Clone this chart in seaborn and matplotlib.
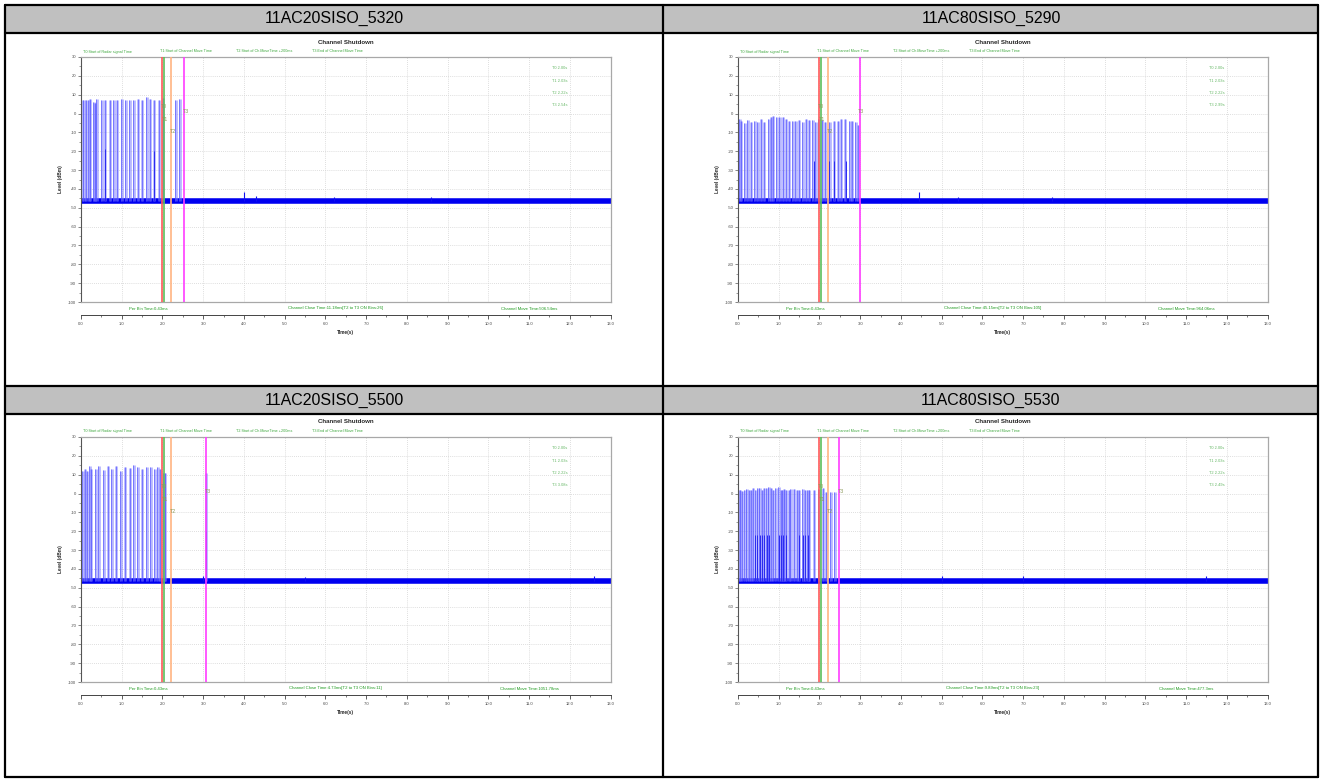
import matplotlib
matplotlib.use("Agg")
import matplotlib.pyplot as plt
import seaborn as sns
import numpy as np
from matplotlib.patches import Rectangle
from matplotlib.lines import Line2D
from matplotlib.ticker import MultipleLocator
from matplotlib.transforms import blended_transform_factory

# ---------------- data ----------------
panel_names = ["11AC20SISO_5320", "11AC80SISO_5290", "11AC20SISO_5500", "11AC80SISO_5530"]

top_labels = ["T0:Start of Radar signal Time", "T1:Start of Channel Move Time",
              "T2:Start of Ch.MoveTime +200ms", "T3:End of Channel Move Time"]
top_label_x = [0.06, 1.94, 3.81, 5.68]
time_ticks = [0.0, 1.0, 2.0, 3.0, 4.0, 5.0, 6.0, 7.0, 8.0, 9.0, 10.0, 11.0, 12.0, 13.0]
level_ticks = [30, 20, 10, 0, -10, -20, -30, -40, -50, -60, -70, -80, -90, -100]

floor_t = [0.0, 13.0]
floor_db = [-46.5, -46.5]

# 11AC20SISO_5320
pulse_t_5320 = [0.02, 0.07, 0.13, 0.19, 0.23, 0.31, 0.35, 0.39, 0.51, 0.59, 0.72, 0.80, 0.89,
                1.00, 1.10, 1.20, 1.30, 1.40, 1.50, 1.61, 1.70, 1.80, 1.92, 2.02, 2.33, 2.42]
pulse_db_5320 = [7, 7, 7, 7, 7.5, 6, 5.5, 7.5, 7, 7, 7, 7, 7, 7.5, 7, 7, 7, 7.5, 7, 9, 7.5, 7,
                 7, 8, 7, 7.5]
low_t_5320 = [0.59, 1.78]
low_db_5320 = [-19, -20]
spike_t_5320 = [4.0, 4.3, 6.2, 8.6]
spike_db_5320 = [-41.5, -44, -44.5, -44.5]
marks_5320 = [2.00, 2.03, 2.22, 2.54]
texts_5320 = ["Per Bin Time:0.43ms", "Channel Close Time:11.18ms[T2 to T3 ON Bins:26]",
              "Channel Move Time:506.54ms"]

# 11AC80SISO_5290
pulse_t_5290 = [0.04, 0.08, 0.16, 0.24, 0.33, 0.41, 0.49, 0.57, 0.65, 0.76, 0.81, 0.87, 0.95,
                1.03, 1.11, 1.18, 1.26, 1.34, 1.42, 1.50, 1.59, 1.67, 1.75, 1.83, 1.91, 1.98,
                2.07, 2.14, 2.25, 2.36, 2.46, 2.54, 2.63, 2.74, 2.80, 2.89, 2.95]
pulse_db_5290 = [-3, -4, -5, -3.5, -4.5, -4, -4.5, -3, -4.5, -3, -2, -1.5, -2, -2, -2, -3, -4,
                 -4, -4, -3.5, -4.5, -3, -3.5, -3.5, -4.5, -3, -3.5, -4.5, -4.5, -4, -4, -3, -3,
                 -4, -4, -4.5, -6]
low_t_5290 = [1.87, 2.24, 2.36, 2.64]
low_db_5290 = [-25, -25, -25, -25]
spike_t_5290 = [4.45, 5.4, 7.7]
spike_db_5290 = [-41.5, -44.5, -44.5]
marks_5290 = [2.00, 2.03, 2.22, 2.99]
texts_5290 = ["Per Bin Time:0.43ms", "Channel Close Time:45.15ms[T2 to T3 ON Bins:105]",
              "Channel Move Time:964.06ms"]

# 11AC20SISO_5500
pulse_t_5500 = [0.04, 0.11, 0.15, 0.21, 0.25, 0.36, 0.44, 0.56, 0.67, 0.75, 0.86, 0.97, 1.08,
                1.21, 1.29, 1.39, 1.50, 1.61, 1.71, 1.81, 1.89, 1.94, 2.03, 2.07, 3.08]
pulse_db_5500 = [12, 13, 12, 14.5, 13, 13, 14.5, 12.5, 14.5, 13, 14.5, 12, 14, 13.5, 15, 14, 13,
                 14, 14, 13, 14, 13, 11, 11, 11]
low_t_5500 = [3.06]
low_db_5500 = [-20]
spike_t_5500 = [3.0, 5.5, 12.6]
spike_db_5500 = [-44, -44.5, -44]
marks_5500 = [2.00, 2.03, 2.22, 3.08]
texts_5500 = ["Per Bin Time:0.43ms", "Channel Close Time:4.73ms[T2 to T3 ON Bins:11]",
              "Channel Move Time:1051.78ms"]

# 11AC80SISO_5530
pulse_t_5530 = [0.02, 0.06, 0.11, 0.16, 0.22, 0.28, 0.33, 0.37, 0.43, 0.49, 0.53, 0.59, 0.65,
                0.71, 0.76, 0.81, 0.87, 0.93, 1.00, 1.06, 1.10, 1.14, 1.18, 1.26, 1.30, 1.38,
                1.46, 1.50, 1.59, 1.65, 1.71, 1.75, 1.87, 1.98, 2.09, 2.17, 2.28, 2.38]
pulse_db_5530 = [2, 2, 1.5, 2, 2.5, 2, 2, 3, 2, 3, 3, 2, 3, 3, 3.5, 3, 2, 3, 3.5, 2, 2, 2.5, 2,
                 2, 2.5, 2.5, 2, 2, 2.5, 2, 2, 2, 2, 2.5, 3, 1, 1, 1]
low_t_5530 = [0.41, 0.46, 0.53, 0.59, 0.65, 0.71, 0.77, 1.00, 1.06, 1.11, 1.18, 1.50, 1.59,
              1.65, 1.71]
low_db_5530 = [-22] * 15
spike_t_5530 = [5.0, 7.0, 11.5]
spike_db_5530 = [-44, -44, -44]
marks_5530 = [2.00, 2.03, 2.22, 2.49]
texts_5530 = ["Per Bin Time:0.43ms", "Channel Close Time:9.89ms[T2 to T3 ON Bins:23]",
              "Channel Move Time:477.3ms"]

mark_label_db = [3.5, -3.0, -9.7, 1.0]
legend_db = [24, 17.5, 11, 4.5]
bottom_text_x = [1.65, 6.25, 11.0]

# ---------------- style ----------------
W, H = 1322, 781
sns.set_theme(style="white")
plt.rcParams['font.family'] = ['Liberation Sans Narrow', 'Liberation Sans', 'DejaVu Sans']

fig = plt.figure(figsize=(W / 100, H / 100), dpi=100)


def fx(x):
    return x / W


def fy(y):
    return 1 - y / H


mark_colors = ['#ff5a5a', '#5cbf5c', '#ffb482', '#ff3cff']
small_font = ['Liberation Sans Narrow', 'Liberation Sans', 'DejaVu Sans']


def draw_panel(L, T, pulse_t, pulse_db, low_t, low_db, spike_t, spike_db, marks, texts):
    R = L + 529.5
    B = T + 245
    ax = fig.add_axes([fx(L), fy(B), (R - L) / W, (B - T) / H])
    ax.set_facecolor('white')
    ax.set_xlim(0, 13)
    ax.set_ylim(-100, 30)
    ax.set_xticks(time_ticks)
    ax.set_yticks(level_ticks)
    ax.set_yticklabels([str(v) for v in level_ticks])
    ax.yaxis.set_minor_locator(MultipleLocator(5))
    ax.tick_params(axis='x', length=0, labelbottom=False)
    ax.tick_params(axis='y', which='major', length=2.2, width=0.5, color='#555555',
                   labelsize=3.0, pad=1.2, labelcolor='#444444', left=True)
    ax.tick_params(axis='y', which='minor', length=1.2, width=0.4, color='#555555', left=True)
    ax.grid(True, which='major', color='#d4d4d4', linestyle=(0, (1, 1.5)), linewidth=0.6)
    ax.set_axisbelow(True)
    for s in ['top', 'right', 'bottom']:
        ax.spines[s].set_color('#a8a8a8')
        ax.spines[s].set_linewidth(0.9)
    ax.spines['left'].set_color('#555555')
    ax.spines['left'].set_linewidth(0.8)
    ax.set_ylabel('Level (dBm)', fontsize=3.4, fontweight='bold', labelpad=4, family=small_font)

    # noise floor band
    sns.lineplot(x=floor_t, y=floor_db, ax=ax, color='#0000f0', linewidth=4.0, legend=False)
    ax.vlines(np.array(spike_t), floor_db[0], np.array(spike_db), color='#1010f0', lw=0.8)

    # radar pulses
    pt = np.array(pulse_t)
    ax.vlines(pt, floor_db[0], np.array(pulse_db), color='#7d7dff', lw=2.0, alpha=0.55)
    ax.vlines(pt - 0.012, floor_db[0], np.array(pulse_db), color='#4a4aff', lw=0.5, alpha=0.85)
    ax.vlines(np.array(low_t), floor_db[0], np.array(low_db), color='#2a2af0', lw=0.7)

    # marker lines
    for t, c in zip(marks, mark_colors):
        ax.axvline(t, color=c, lw=1.2, zorder=3)
    for i, (t, y) in enumerate(zip(marks, mark_label_db)):
        ax.text(t + 0.04, y, f"T{i}", fontsize=3.8, color='#8c9a5a', ha='center', va='center',
                family=small_font, zorder=4)

    # legend text
    for i, (t, y) in enumerate(zip(marks, legend_db)):
        ax.text(11.75, y, f"T{i} {t:.2f}s", fontsize=2.9, color='#66b866', ha='center',
                va='center', family=small_font)

    bt = blended_transform_factory(ax.transData, ax.transAxes)
    # title and top labels
    ax.text(0.5, 1 + 15 / 245, 'Channel Shutdown', transform=ax.transAxes, ha='center',
            va='center', fontsize=4.4, fontweight='bold', family=small_font)
    for x, txt in zip(top_label_x, top_labels):
        ax.text(x, 1 + 5.5 / 245, txt, transform=bt, ha='left', va='center', fontsize=2.7,
                color='#3fa83f', family=small_font, clip_on=False)
    # bottom texts
    for x, txt in zip(bottom_text_x, texts):
        ax.text(x, -6.5 / 245, txt, transform=bt, ha='center', va='center', fontsize=3.1,
                color='#1f9a1f', family=small_font, clip_on=False)

    # separate time axis
    axx = fig.add_axes([fx(L), fy(B + 13), (R - L) / W, 0.0001])
    axx.set_facecolor('none')
    for s in ['top', 'left', 'right']:
        axx.spines[s].set_visible(False)
    axx.spines['bottom'].set_color('#444444')
    axx.spines['bottom'].set_linewidth(0.7)
    axx.set_xlim(0, 13)
    axx.set_yticks([])
    axx.set_xticks(time_ticks)
    axx.set_xticklabels([f"{v:.1f}" for v in time_ticks])
    axx.xaxis.set_minor_locator(MultipleLocator(0.5))
    axx.tick_params(axis='x', which='major', length=3, width=0.6, color='#444444',
                    labelsize=3.0, pad=1.8, labelcolor='#444444', bottom=True)
    axx.tick_params(axis='x', which='minor', length=1.6, width=0.5, color='#444444', bottom=True)
    axx.set_xlabel('Time(s)', fontsize=3.4, fontweight='bold', labelpad=3, family=small_font)


# ---------------- table frame ----------------
def frect(x0, y0, x1, y1, color):
    fig.add_artist(Rectangle((fx(x0), fy(y1)), (x1 - x0) / W, (y1 - y0) / H,
                             transform=fig.transFigure, facecolor=color, edgecolor='none',
                             zorder=0))


def fline(x0, y0, x1, y1, lw=1.6):
    fig.add_artist(Line2D([fx(x0), fx(x1)], [fy(y0), fy(y1)], transform=fig.transFigure,
                          color='black', lw=lw, zorder=10))


frect(5, 5, 1318, 32, '#c0c0c0')
frect(5, 387, 1318, 413, '#c0c0c0')
fline(4.5, 4.5, 1318, 4.5)
fline(4.5, 32.5, 1318, 32.5)
fline(4.5, 386, 1318, 386)
fline(4.5, 413.5, 1318, 413.5)
fline(4.5, 777, 1318, 777)
fline(4.5, 4.5, 4.5, 777)
fline(1318, 4.5, 1318, 777)
fline(663, 4.5, 663, 777)

header_pos = [(334, 18.5), (991, 18.5), (334, 400), (991, 400)]
for (hx, hy), name in zip(header_pos, panel_names):
    fig.text(fx(hx), fy(hy), name, ha='center', va='center', fontsize=11.5,
             family=['Liberation Sans', 'DejaVu Sans'], color='black')

draw_panel(81, 57, pulse_t_5320, pulse_db_5320, low_t_5320, low_db_5320, spike_t_5320,
           spike_db_5320, marks_5320, texts_5320)
draw_panel(738, 57, pulse_t_5290, pulse_db_5290, low_t_5290, low_db_5290, spike_t_5290,
           spike_db_5290, marks_5290, texts_5290)
draw_panel(81, 437, pulse_t_5500, pulse_db_5500, low_t_5500, low_db_5500, spike_t_5500,
           spike_db_5500, marks_5500, texts_5500)
draw_panel(738, 437, pulse_t_5530, pulse_db_5530, low_t_5530, low_db_5530, spike_t_5530,
           spike_db_5530, marks_5530, texts_5530)

fig.savefig('out.png', dpi=100)
